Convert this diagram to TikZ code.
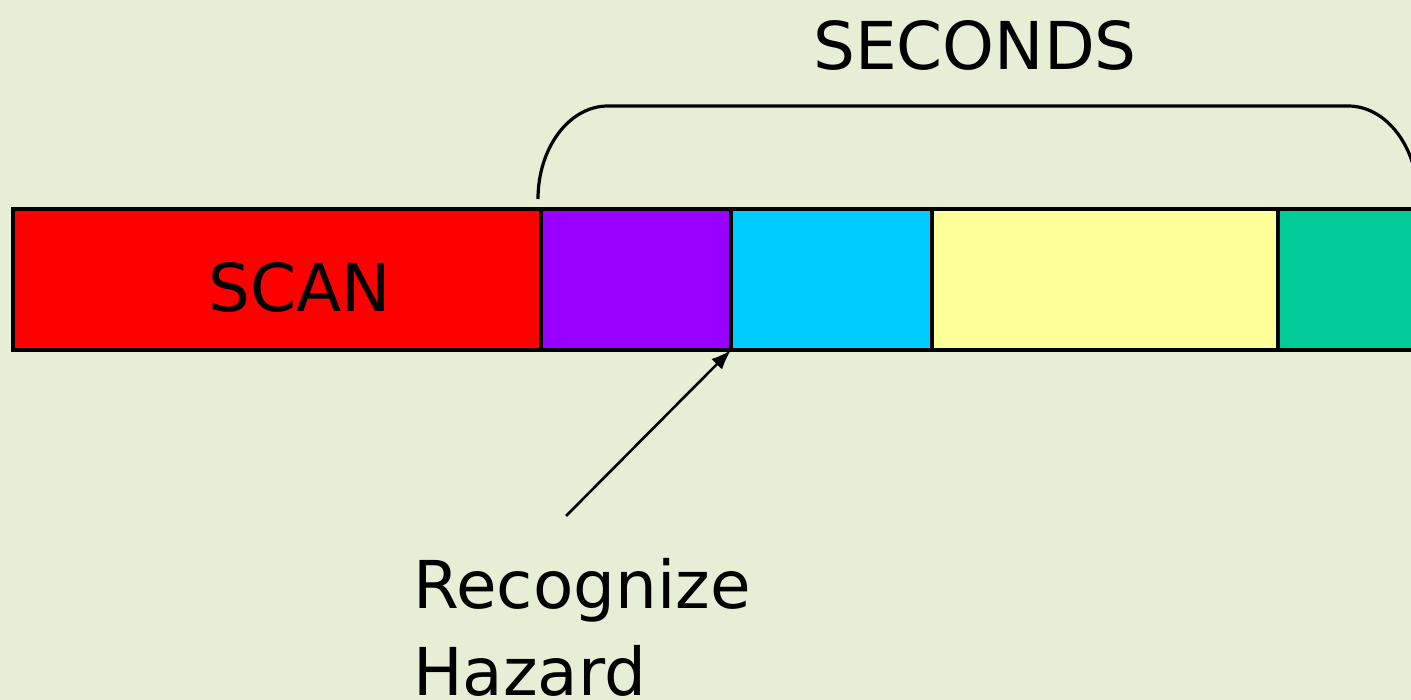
\documentclass[tikz,border=0pt]{standalone}
\usepackage{fontspec}
\setmainfont{DejaVu Sans}
\usetikzlibrary{arrows.meta,positioning}
\definecolor{bgcol}{RGB}{230,239,214}
\definecolor{scanred}{RGB}{255,0,0}
\definecolor{segpurple}{RGB}{153,0,255}
\definecolor{segcyan}{RGB}{0,204,255}
\definecolor{segyellow}{RGB}{255,255,153}
\definecolor{seggreen}{RGB}{0,204,153}
\tikzstyle{block} = [draw, line width=3.2pt,
	minimum height=141pt,
	inner sep=0pt, outer sep=0pt]
\tikzstyle{arrow} =[-{Latex[length=20pt,width=15pt]}, line width=2.6pt]
\tikzstyle{bigtext} = [font=\fontsize{66}{87}\selectfont]

\begin{document}
\begin{tikzpicture}[x=1pt,y=-1pt]
			\fill[bgcol] (0,0) rectangle (1411,700);
			\useasboundingbox (0,0) rectangle (1411,700);
			\clip (0,0) rectangle (1411,700);
			
			\node (scan) [block, fill=scanred, minimum width=528pt, anchor=north west,
				label={[bigtext, xshift=23pt, yshift=-8pt]center:SCAN}] at (13,209) {};
			\node (seg2) [block, fill=segpurple, minimum width=190pt, right=0pt of scan] {};
			\node (seg3) [block, fill=segcyan, minimum width=201pt, right=0pt of seg2] {};
			\node (seg4) [block, fill=segyellow, minimum width=346pt, right=0pt of seg3] {};
			\node (seg5) [block, fill=seggreen, minimum width=150pt, right=0pt of seg4] {};
			
			% brace over the seconds
			\draw [line width=3.2pt] (538,199) .. controls (538,148) and (569,106) .. (608,106)
				-- (1348,106) .. controls (1387,106) and (1418,148) .. (1418,199);
			\node (secs) [bigtext, anchor=base] at (975,70) {SECONDS};
			
			\node (hazard) [bigtext, align=left, anchor=base west, inner sep=0pt] at (413,695) {Recognize\\Hazard};
			\coordinate (tail) at (566,516);
			\draw [arrow] (tail) -- (seg2.south east);
		\end{tikzpicture}
\end{document}
